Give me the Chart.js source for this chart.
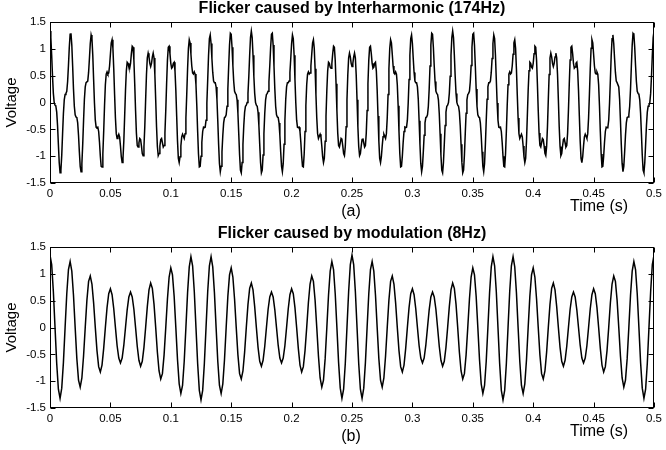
<!DOCTYPE html>
<html>
<head>
<meta charset="utf-8">
<script src="https://cdn.jsdelivr.net/npm/chart.js@4.4.1/dist/chart.umd.min.js"></script>
<style>
  html, body { margin: 0; padding: 0; background: #fff; }
  #wrap { position: relative; width: 666px; height: 450px; }
  canvas { position: absolute; left: 0; }
</style>
</head>
<body>
<div id="wrap">
  <canvas id="chartA" width="666" height="225" style="top:0px"></canvas>
  <canvas id="chartB" width="666" height="225" style="top:225px"></canvas>
</div>
<script>
// sampling of the two traces (samples per second)
const sampleRateA = 1440;
const sampleRateB = 720;

// (a) interharmonic flicker, voltage
const voltageA = [
  // 0 - 0.083 s
  1.33,1.21,0.88,0.49,0.17,0,-0.05,-0.07,-0.18,-0.43,
  -0.78,-1.12,-1.31,-1.26,-0.98,-0.58,-0.2,0.05,0.15,0.17,
  0.21,0.39,0.69,1.03,1.27,1.29,1.07,0.68,0.25,-0.07,
  -0.23,-0.27,-0.28,-0.38,-0.61,-0.92,-1.19,-1.29,-1.14,-0.78,
  -0.34,0.06,0.29,0.37,0.37,0.4,0.56,0.82,1.1,1.26,
  1.19,0.88,0.43,-0.01,-0.33,-0.46,-0.47,-0.46,-0.54,-0.74,
  -1,-1.19,-1.2,-0.96,-0.54,-0.06,0.33,0.53,0.57,0.53,
  0.55,0.68,0.9,1.11,1.17,1.01,0.63,0.15,-0.29,-0.58,
  -0.67,-0.63,-0.59,-0.64,-0.81,-1.01,-1.12,-1.04,-0.72,-0.25,
  0.23,0.59,0.75,0.73,0.66,0.64,0.73,0.91,1.05,1.03,
  0.79,0.35,-0.15,-0.57,-0.8,-0.83,-0.75,-0.67,-0.69,-0.81,
  -0.95,-0.99,-0.82,-0.45,0.05,0.52,0.83,0.92,0.85,0.73,
  0.67,
  // 0.083 - 0.167 s
  0.73,0.85,0.92,0.83,0.52,0.05,-0.45,-0.82,-0.99,-0.95,
  -0.81,-0.69,-0.67,-0.75,-0.83,-0.8,-0.57,-0.15,0.35,0.79,
  1.03,1.05,0.91,0.73,0.64,0.66,0.73,0.75,0.59,0.23,
  -0.25,-0.72,-1.04,-1.12,-1.01,-0.81,-0.64,-0.59,-0.63,-0.67,
  -0.58,-0.29,0.15,0.63,1.01,1.17,1.11,0.9,0.68,0.55,
  0.53,0.57,0.53,0.33,-0.06,-0.54,-0.96,-1.2,-1.19,-1,
  -0.74,-0.54,-0.46,-0.47,-0.46,-0.33,-0.01,0.43,0.88,1.19,
  1.26,1.1,0.82,0.56,0.4,0.37,0.37,0.29,0.06,-0.34,
  -0.78,-1.14,-1.29,-1.19,-0.92,-0.61,-0.38,-0.28,-0.27,-0.23,
  -0.07,0.25,0.68,1.07,1.29,1.27,1.03,0.69,0.39,0.21,
  0.17,0.15,0.05,-0.2,-0.58,-0.98,-1.26,-1.31,-1.12,-0.78,
  -0.43,-0.18,-0.07,-0.05,0,0.17,0.49,0.88,1.21,1.33,
  // 0.167 - 0.25 s
  1.21,0.88,0.49,0.17,0,-0.05,-0.07,-0.18,-0.43,
  -0.78,-1.12,-1.31,-1.26,-0.98,-0.58,-0.2,0.05,0.15,0.17,
  0.21,0.39,0.69,1.03,1.27,1.29,1.07,0.68,0.25,-0.07,
  -0.23,-0.27,-0.28,-0.38,-0.61,-0.92,-1.19,-1.29,-1.14,-0.78,
  -0.34,0.06,0.29,0.37,0.37,0.4,0.56,0.82,1.1,1.26,
  1.19,0.88,0.43,-0.01,-0.33,-0.46,-0.47,-0.46,-0.54,-0.74,
  -1,-1.19,-1.2,-0.96,-0.54,-0.06,0.33,0.53,0.57,0.53,
  0.55,0.68,0.9,1.11,1.17,1.01,0.63,0.15,-0.29,-0.58,
  -0.67,-0.63,-0.59,-0.64,-0.81,-1.01,-1.12,-1.04,-0.72,-0.25,
  0.23,0.59,0.75,0.73,0.66,0.64,0.73,0.91,1.05,1.03,
  0.79,0.35,-0.15,-0.57,-0.8,-0.83,-0.75,-0.67,-0.69,-0.81,
  -0.95,-0.99,-0.82,-0.45,0.05,0.52,0.83,0.92,0.85,0.73,
  0.67,
  // 0.25 - 0.333 s
  0.73,0.85,0.92,0.83,0.52,0.05,-0.45,-0.82,-0.99,-0.95,
  -0.81,-0.69,-0.67,-0.75,-0.83,-0.8,-0.57,-0.15,0.35,0.79,
  1.03,1.05,0.91,0.73,0.64,0.66,0.73,0.75,0.59,0.23,
  -0.25,-0.72,-1.04,-1.12,-1.01,-0.81,-0.64,-0.59,-0.63,-0.67,
  -0.58,-0.29,0.15,0.63,1.01,1.17,1.11,0.9,0.68,0.55,
  0.53,0.57,0.53,0.33,-0.06,-0.54,-0.96,-1.2,-1.19,-1,
  -0.74,-0.54,-0.46,-0.47,-0.46,-0.33,-0.01,0.43,0.88,1.19,
  1.26,1.1,0.82,0.56,0.4,0.37,0.37,0.29,0.06,-0.34,
  -0.78,-1.14,-1.29,-1.19,-0.92,-0.61,-0.38,-0.28,-0.27,-0.23,
  -0.07,0.25,0.68,1.07,1.29,1.27,1.03,0.69,0.39,0.21,
  0.17,0.15,0.05,-0.2,-0.58,-0.98,-1.26,-1.31,-1.12,-0.78,
  -0.43,-0.18,-0.07,-0.05,0,0.17,0.49,0.88,1.21,1.33,
  // 0.333 - 0.417 s
  1.21,0.88,0.49,0.17,0,-0.05,-0.07,-0.18,-0.43,
  -0.78,-1.12,-1.31,-1.26,-0.98,-0.58,-0.2,0.05,0.15,0.17,
  0.21,0.39,0.69,1.03,1.27,1.29,1.07,0.68,0.25,-0.07,
  -0.23,-0.27,-0.28,-0.38,-0.61,-0.92,-1.19,-1.29,-1.14,-0.78,
  -0.34,0.06,0.29,0.37,0.37,0.4,0.56,0.82,1.1,1.26,
  1.19,0.88,0.43,-0.01,-0.33,-0.46,-0.47,-0.46,-0.54,-0.74,
  -1,-1.19,-1.2,-0.96,-0.54,-0.06,0.33,0.53,0.57,0.53,
  0.55,0.68,0.9,1.11,1.17,1.01,0.63,0.15,-0.29,-0.58,
  -0.67,-0.63,-0.59,-0.64,-0.81,-1.01,-1.12,-1.04,-0.72,-0.25,
  0.23,0.59,0.75,0.73,0.66,0.64,0.73,0.91,1.05,1.03,
  0.79,0.35,-0.15,-0.57,-0.8,-0.83,-0.75,-0.67,-0.69,-0.81,
  -0.95,-0.99,-0.82,-0.45,0.05,0.52,0.83,0.92,0.85,0.73,
  0.67,
  // 0.417 - 0.5 s
  0.73,0.85,0.92,0.83,0.52,0.05,-0.45,-0.82,-0.99,-0.95,
  -0.81,-0.69,-0.67,-0.75,-0.83,-0.8,-0.57,-0.15,0.35,0.79,
  1.03,1.05,0.91,0.73,0.64,0.66,0.73,0.75,0.59,0.23,
  -0.25,-0.72,-1.04,-1.12,-1.01,-0.81,-0.64,-0.59,-0.63,-0.67,
  -0.58,-0.29,0.15,0.63,1.01,1.17,1.11,0.9,0.68,0.55,
  0.53,0.57,0.53,0.33,-0.06,-0.54,-0.96,-1.2,-1.19,-1,
  -0.74,-0.54,-0.46,-0.47,-0.46,-0.33,-0.01,0.43,0.88,1.19,
  1.26,1.1,0.82,0.56,0.4,0.37,0.37,0.29,0.06,-0.34,
  -0.78,-1.14,-1.29,-1.19,-0.92,-0.61,-0.38,-0.28,-0.27,-0.23,
  -0.07,0.25,0.68,1.07,1.29,1.27,1.03,0.69,0.39,0.21,
  0.17,0.15,0.05,-0.2,-0.58,-0.98,-1.26,-1.31,-1.12,-0.78,
  -0.43,-0.18,-0.07,-0.05,0,0.17,0.49,0.88,1.21,1.33
];

// (b) 8 Hz modulation flicker
const voltageB = [
  // 0 - 0.125 s
  1.35,1.17,0.67,0,-0.67,-1.15,-1.32,-1.13,-0.65,0,
  0.63,1.08,1.23,1.05,0.6,0,-0.58,-0.98,-1.11,-0.94,
  -0.53,0,0.51,0.86,0.96,0.81,0.46,0,-0.43,-0.73,
  -0.83,-0.7,-0.39,0,0.37,0.63,0.72,0.61,0.35,0,
  -0.34,-0.57,-0.66,-0.57,-0.33,0,0.33,0.57,0.66,0.57,
  0.34,0,-0.35,-0.61,-0.72,-0.63,-0.37,0,0.39,0.7,
  0.83,0.73,0.43,0,-0.46,-0.81,-0.96,-0.86,-0.51,0,
  0.53,0.94,1.11,0.98,0.58,0,-0.6,-1.05,-1.23,-1.08,
  -0.63,0,0.65,1.13,1.32,1.15,0.67,0,-0.67,-1.17,
  -1.35,
  // 0.125 - 0.25 s
  -1.17,-0.67,0,0.67,1.15,1.32,1.13,0.65,0,-0.63,
  -1.08,-1.23,-1.05,-0.6,0,0.58,0.98,1.11,0.94,0.53,
  0,-0.51,-0.86,-0.96,-0.81,-0.46,0,0.43,0.73,0.83,
  0.7,0.39,0,-0.37,-0.63,-0.72,-0.61,-0.35,0,0.34,
  0.57,0.66,0.57,0.33,0,-0.33,-0.57,-0.66,-0.57,-0.34,
  0,0.35,0.61,0.72,0.63,0.37,0,-0.39,-0.7,-0.83,
  -0.73,-0.43,0,0.46,0.81,0.96,0.86,0.51,0,-0.53,
  -0.94,-1.11,-0.98,-0.58,0,0.6,1.05,1.23,1.08,0.63,
  0,-0.65,-1.13,-1.32,-1.15,-0.67,0,0.67,1.17,1.35,
  // 0.25 - 0.375 s
  1.17,0.67,0,-0.67,-1.15,-1.32,-1.13,-0.65,0,
  0.63,1.08,1.23,1.05,0.6,0,-0.58,-0.98,-1.11,-0.94,
  -0.53,0,0.51,0.86,0.96,0.81,0.46,0,-0.43,-0.73,
  -0.83,-0.7,-0.39,0,0.37,0.63,0.72,0.61,0.35,0,
  -0.34,-0.57,-0.66,-0.57,-0.33,0,0.33,0.57,0.66,0.57,
  0.34,0,-0.35,-0.61,-0.72,-0.63,-0.37,0,0.39,0.7,
  0.83,0.73,0.43,0,-0.46,-0.81,-0.96,-0.86,-0.51,0,
  0.53,0.94,1.11,0.98,0.58,0,-0.6,-1.05,-1.23,-1.08,
  -0.63,0,0.65,1.13,1.32,1.15,0.67,0,-0.67,-1.17,
  -1.35,
  // 0.375 - 0.5 s
  -1.17,-0.67,0,0.67,1.15,1.32,1.13,0.65,0,-0.63,
  -1.08,-1.23,-1.05,-0.6,0,0.58,0.98,1.11,0.94,0.53,
  0,-0.51,-0.86,-0.96,-0.81,-0.46,0,0.43,0.73,0.83,
  0.7,0.39,0,-0.37,-0.63,-0.72,-0.61,-0.35,0,0.34,
  0.57,0.66,0.57,0.33,0,-0.33,-0.57,-0.66,-0.57,-0.34,
  0,0.35,0.61,0.72,0.63,0.37,0,-0.39,-0.7,-0.83,
  -0.73,-0.43,0,0.46,0.81,0.96,0.86,0.51,0,-0.53,
  -0.94,-1.11,-0.98,-0.58,0,0.6,1.05,1.23,1.08,0.63,
  0,-0.65,-1.13,-1.32,-1.15,-0.67,0,0.67,1.17,1.35
];

const timeA = voltageA.map((v, i) => i / sampleRateA);
const timeB = voltageB.map((v, i) => i / sampleRateB);

const titleA = "Flicker caused by Interharmonic (174Hz)";
const titleB = "Flicker caused by modulation (8Hz)";

Chart.defaults.font.family = "'Liberation Sans', Arial, Helvetica, sans-serif";
Chart.defaults.color = "#000";

// MATLAB style tick text: 1 not 1.0, 0.1 not 0.10
const plainTick = (v) => String(Number(v.toFixed(2)));

// MATLAB-like box with inward ticks on all sides, plus the (a)/(b) and Time labels
const matlabBox = {
  id: "matlabBox",
  afterDraw(chart, args, opts) {
    const { ctx, chartArea: a, scales } = chart;
    const L = Math.round(a.left) + 0.5, R = Math.round(a.right) - 0.5;
    const T = Math.round(a.top) + 0.5, B = Math.round(a.bottom) - 0.5;
    ctx.save();
    ctx.strokeStyle = "#000";
    ctx.lineWidth = 1;
    ctx.beginPath();
    scales.x.ticks.forEach(t => {
      const x = Math.round(scales.x.getPixelForValue(t.value)) + 0.5;
      ctx.moveTo(x, B); ctx.lineTo(x, B - 5);
      ctx.moveTo(x, T); ctx.lineTo(x, T + 5);
    });
    scales.y.ticks.forEach(t => {
      const y = Math.round(scales.y.getPixelForValue(t.value)) + 0.5;
      ctx.moveTo(L, y); ctx.lineTo(L + 5, y);
      ctx.moveTo(R, y); ctx.lineTo(R - 5, y);
    });
    ctx.stroke();
    ctx.strokeRect(L, T, R - L, B - T);

    ctx.fillStyle = "#000";
    ctx.font = "16px 'Liberation Sans', Arial, sans-serif";
    ctx.textAlign = "center";
    ctx.textBaseline = "middle";
    ctx.fillText(opts.sub, (a.left + a.right) / 2 - 1, a.bottom + 28.5);
    ctx.fillText("Time (s)", a.right - 55, a.bottom + 23.5);
    ctx.restore();
  }
};

function drawWave(id, times, values, title, sub) {
  const ctx = document.getElementById(id).getContext("2d");
  new Chart(ctx, {
    type: "line",
    data: {
      labels: times,
      datasets: [{
        data: values,
        borderColor: "#000",
        borderWidth: 1.5,
        pointRadius: 0,
        tension: 0,
        fill: false
      }]
    },
    options: {
      responsive: false,
      animation: false,
      devicePixelRatio: 1,
      layout: { padding: { top: 0, right: 8, bottom: 0, left: 0 } },
      plugins: {
        legend: { display: false },
        tooltip: { enabled: false },
        title: {
          display: true,
          text: title,
          fullSize: false,
          color: "#000",
          font: { size: 16, weight: "bold", lineHeight: 1 },
          padding: { top: 1, bottom: 5 }
        },
        matlabBox: { sub: sub }
      },
      scales: {
        x: {
          type: "linear",
          min: 0,
          max: 0.5,
          grid: { display: false, drawTicks: false },
          border: { display: false },
          ticks: { stepSize: 0.05, autoSkip: false, maxRotation: 0, padding: 4, font: { size: 11.5 }, callback: plainTick },
          afterFit(s) { s.height = 42; }
        },
        y: {
          min: -1.5,
          max: 1.5,
          grid: { display: false, drawTicks: false },
          border: { display: false },
          ticks: { stepSize: 0.5, padding: 4, font: { size: 11.5 }, callback: plainTick },
          title: { display: true, text: "Voltage", font: { size: 15 }, padding: { top: 3, bottom: 0 } },
          afterFit(s) { s.width = 50; }
        }
      }
    },
    plugins: [matlabBox]
  });
}

drawWave("chartA", timeA, voltageA, titleA, "(a)");
drawWave("chartB", timeB, voltageB, titleB, "(b)");
</script>
</body>
</html>
